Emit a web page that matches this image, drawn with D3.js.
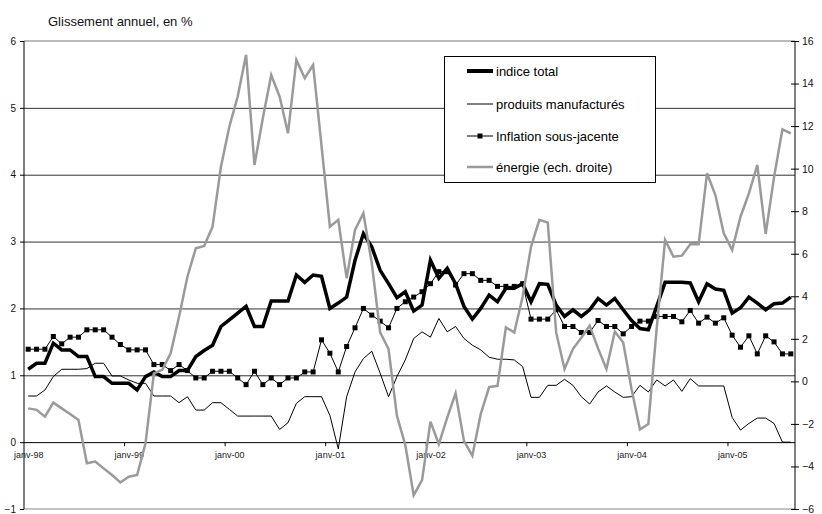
<!DOCTYPE html>
<html><head><meta charset="utf-8">
<script src="https://cdn.jsdelivr.net/npm/d3@7"></script>
<style>
body{margin:0;background:#fff;}
svg{display:block;font-family:"Liberation Sans",Arial,sans-serif;}
</style></head>
<body><svg id="chart" width="822" height="514"></svg>
<script>
// ---- DATA (monthly, janv-98 .. août-05) ----
const startYear = 1998, nMonths = 92;
const tickLabels = ["janv-98","janv-99","janv-00","janv-01","janv-02","janv-03","janv-04","janv-05"];
const indiceTotal = [1.09,1.18,1.18,1.48,1.38,1.38,1.28,1.28,0.98,0.98,0.88,0.88,
 0.88,0.78,0.98,1.05,0.98,0.98,1.07,1.07,1.28,1.37,1.45,1.73,
 1.83,1.93,2.03,1.73,1.73,2.11,2.11,2.11,2.50,2.39,2.50,2.48,
 2.00,2.08,2.17,2.72,3.12,2.92,2.57,2.37,2.16,2.25,1.96,2.05,
 2.72,2.45,2.60,2.37,2.03,1.84,2.00,2.20,2.10,2.30,2.30,2.37,
 2.10,2.37,2.36,2.05,1.88,1.98,1.88,1.98,2.15,2.05,2.15,1.98,
 1.82,1.70,1.68,2.03,2.39,2.39,2.39,2.38,2.10,2.37,2.29,2.27,
 1.93,2.01,2.17,2.08,1.98,2.07,2.08,2.17];
const produitsManuf = [0.69,0.69,0.78,0.98,1.09,1.09,1.09,1.10,1.18,1.18,0.99,0.99,
 0.93,0.88,0.88,0.69,0.69,0.69,0.59,0.68,0.48,0.48,0.59,0.59,
 0.49,0.39,0.39,0.39,0.39,0.39,0.19,0.29,0.58,0.68,0.68,0.68,
 0.40,-0.10,0.68,1.05,1.25,1.36,1.03,0.68,0.98,1.23,1.55,1.65,
 1.57,1.85,1.65,1.73,1.55,1.45,1.38,1.27,1.24,1.24,1.23,1.13,
 0.67,0.67,0.85,0.85,0.94,0.85,0.68,0.57,0.75,0.84,0.75,0.67,
 0.68,0.85,0.75,0.93,0.84,0.93,0.76,0.95,0.84,0.84,0.84,0.84,
 0.37,0.18,0.28,0.36,0.36,0.28,0.00,0.00];
const inflationSJ = [1.39,1.39,1.39,1.58,1.47,1.57,1.57,1.68,1.68,1.68,1.57,1.46,
 1.38,1.38,1.38,1.16,1.16,1.07,1.16,1.07,0.96,0.96,1.06,1.06,
 1.06,0.96,0.86,1.06,0.86,0.96,0.86,0.96,0.96,1.05,1.05,1.53,
 1.33,1.05,1.43,1.71,2.00,1.90,1.81,1.71,2.00,2.10,2.17,2.25,
 2.37,2.55,2.55,2.35,2.52,2.52,2.42,2.42,2.33,2.33,2.33,2.37,
 1.84,1.84,1.84,1.98,1.73,1.73,1.64,1.64,1.82,1.73,1.73,1.62,
 1.73,1.81,1.81,1.88,1.88,1.88,1.80,1.97,1.78,1.87,1.78,1.86,
 1.60,1.42,1.59,1.32,1.59,1.50,1.32,1.32];
const energie = [-1.27,-1.34,-1.66,-1.00,-1.27,-1.53,-1.81,-3.85,-3.77,-4.09,-4.40,-4.75,
 -4.48,-4.40,-2.91,0.38,0.54,1.32,3.04,4.92,6.26,6.37,7.27,10.09,
 11.97,13.39,15.35,10.17,12.37,14.40,13.39,11.66,15.11,14.25,14.87,11.08,
 7.27,7.59,4.85,7.12,7.90,5.55,2.30,1.52,-1.62,-2.99,-5.35,-4.64,
 -1.89,-2.95,-1.70,-0.56,-2.80,-3.50,-1.54,-0.27,-0.21,2.54,2.30,3.98,
 6.33,7.59,7.46,2.30,0.58,1.52,2.05,2.62,1.55,0.58,2.34,1.83,
 -0.37,-2.26,-2.01,2.50,6.65,5.86,5.91,6.44,6.44,9.78,8.76,6.96,
 6.18,7.74,8.84,10.17,6.93,9.60,11.85,11.66];
const leftTicks = [-1,0,1,2,3,4,5,6];
const rightTicks = [-6,-4,-2,0,2,4,6,8,10,12,14,16];
const seriesNames = ["indice total","produits manufacturés","Inflation sous-jacente","énergie (ech. droite)"];
const title = "Glissement annuel, en %";

// categories
const months = d3.range(nMonths).map(i => new Date(startYear, i, 1));
const idx = d3.range(nMonths);

const svg = d3.select("#chart");
const L = 24, R = 795, T = 41, B = 509;
const xP = d3.scalePoint().domain(idx).range([L, R]).padding(0.5);
const step = xP.step();
const yL = d3.scaleLinear().domain([-1, 6]).range([B, T]);
const yR = d3.scaleLinear().domain([-6, 16]).range([B, T]);

// title
svg.append("text").attr("x", 48).attr("y", 26).attr("font-size", 13).attr("fill", "#111").text(title);

// top / bottom borders
svg.append("line").attr("x1", L).attr("x2", R).attr("y1", yL(6)).attr("y2", yL(6)).attr("stroke", "#777");
svg.append("line").attr("x1", L).attr("x2", R).attr("y1", yL(-1)).attr("y2", yL(-1)).attr("stroke", "#888");
// gridlines
svg.append("g").selectAll("line").data([1,2,3,4,5]).join("line")
  .attr("x1", L).attr("x2", R).attr("y1", d => yL(d) + 0.5).attr("y2", d => yL(d) + 0.5)
  .attr("stroke", "#333").attr("stroke-width", 1);

// x axis at 0
const janIdx = idx.filter(i => i % 12 === 0);
const xAxis = d3.axisBottom(xP).tickValues(janIdx).tickSize(0).tickPadding(9)
  .tickFormat((d, k) => tickLabels[k]);
const gx = svg.append("g").attr("transform", `translate(0,${yL(0) + 0.5})`).call(xAxis);
gx.select(".domain").attr("stroke", "#000").attr("d", `M${L},0H${R}`);
gx.selectAll("text").attr("font-size", 9).attr("fill", "#222").attr("font-family", "Liberation Sans, Arial, sans-serif");
svg.append("g").selectAll("line").data(janIdx.slice(1)).join("line")
  .attr("x1", d => xP(d) - step / 2).attr("x2", d => xP(d) - step / 2)
  .attr("y1", yL(0)).attr("y2", yL(0) + 4).attr("stroke", "#000");

// left axis
const gl = svg.append("g").attr("transform", `translate(${L},0)`)
  .call(d3.axisLeft(yL).tickValues(leftTicks).tickSize(4).tickPadding(4).tickFormat(d3.format("d")));
gl.selectAll("text").attr("font-size", 10).attr("font-family", "Liberation Sans, Arial, sans-serif").attr("fill", "#111");
gl.select(".domain").attr("stroke", "#000").attr("d", `M0,${T}V${B}`);

// right axis
const gr = svg.append("g").attr("transform", `translate(${R},0)`)
  .call(d3.axisRight(yR).tickValues(rightTicks).tickSize(4).tickPadding(3).tickFormat(d3.format("d")));
gr.selectAll(".tick line").attr("x1", -4);
gr.selectAll("text").attr("font-size", 10.5).attr("font-family", "Liberation Sans, Arial, sans-serif").attr("fill", "#111");
gr.select(".domain").attr("stroke", "#000").attr("d", `M0,${T}V${B}`);

// lines
const lineL = vals => d3.line().x((d, i) => xP(i)).y(d => yL(d))(vals);
const lineR = vals => d3.line().x((d, i) => xP(i)).y(d => yR(d))(vals);

svg.append("path").attr("d", lineL(produitsManuf)).attr("fill", "none").attr("stroke", "#000").attr("stroke-width", 1);
svg.append("path").attr("d", lineL(inflationSJ)).attr("fill", "none").attr("stroke", "#000").attr("stroke-width", 1);
svg.append("g").selectAll("rect").data(inflationSJ).join("rect")
  .attr("x", (d, i) => xP(i) - 2.5).attr("y", d => yL(d) - 2.5).attr("width", 5).attr("height", 5).attr("fill", "#000");
svg.append("path").attr("d", lineL(indiceTotal)).attr("fill", "none").attr("stroke", "#000").attr("stroke-width", 3.5).attr("stroke-linejoin", "miter");
svg.append("path").attr("d", lineR(energie)).attr("fill", "none").attr("stroke", "#9a9a9a").attr("stroke-width", 2.5);

// legend
const lg = svg.append("g");
lg.append("rect").attr("x", 444.5).attr("y", 56.5).attr("width", 211).attr("height", 126).attr("fill", "#fff").attr("stroke", "#000");
const rows = [71, 104, 136, 167];
const styles = [{c:"#000", w:4}, {c:"#000", w:1}, {c:"#000", w:1, m:true}, {c:"#9a9a9a", w:2.5}];
seriesNames.forEach((n, k) => {
  lg.append("line").attr("x1", 467).attr("x2", 493).attr("y1", rows[k]).attr("y2", rows[k])
    .attr("stroke", styles[k].c).attr("stroke-width", styles[k].w);
  if (styles[k].m) lg.append("rect").attr("x", 477.5).attr("y", rows[k] - 2.5).attr("width", 5).attr("height", 5).attr("fill", "#000");
  lg.append("text").attr("x", 496).attr("y", rows[k] + 4.5).attr("font-size", 13).attr("fill", "#000").text(n);
});
</script></body></html>
